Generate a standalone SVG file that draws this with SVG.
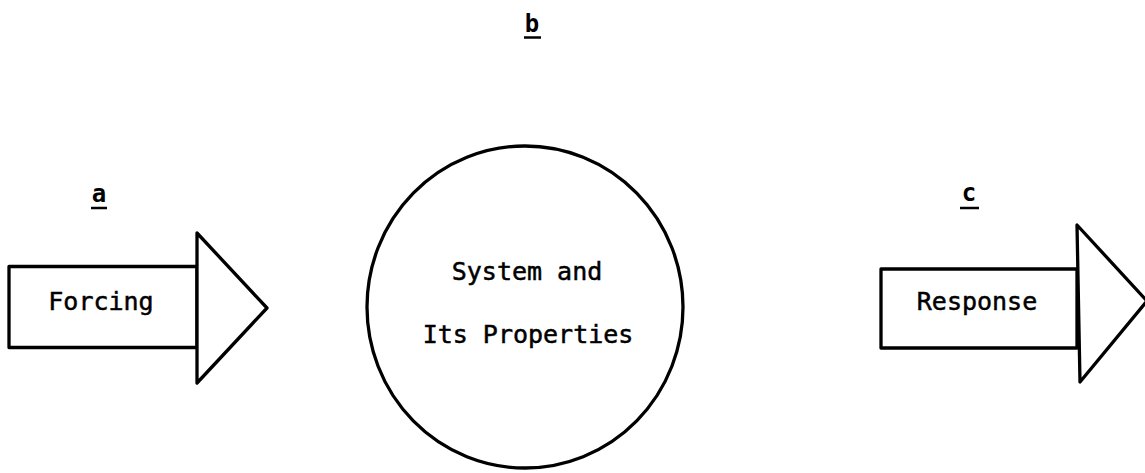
<svg xmlns="http://www.w3.org/2000/svg" width="1145" height="473" viewBox="0 0 1145 473">
  <style>
    .shape { fill: #ffffff; stroke: #000000; stroke-width: 3.3; stroke-linejoin: round; }
    .txt { font-family: "DejaVu Sans Mono", "Liberation Mono", monospace; font-size: 25px; fill: #000000; stroke: #000000; stroke-width: 0.5; text-anchor: middle; }
    .lbl { font-family: "DejaVu Sans Mono", "Liberation Mono", monospace; font-size: 24px; font-weight: bold; fill: #000000; text-anchor: middle; }
    .ul { stroke: #000000; stroke-width: 2.5; }
  </style>
  <rect width="1145" height="473" fill="#ffffff"/>
  <g id="label-b">
    <text class="lbl" x="532" y="32">b</text>
    <line class="ul" x1="524" y1="37.5" x2="541" y2="37.5"/>
  </g>
  <g id="label-a">
    <text class="lbl" x="99" y="202">a</text>
    <line class="ul" x1="91" y1="208" x2="107" y2="208"/>
  </g>
  <g id="label-c">
    <text class="lbl" x="969" y="201">c</text>
    <line class="ul" x1="960" y1="208" x2="979" y2="208"/>
  </g>
  <g id="forcing">
    <rect class="shape" x="9" y="266.5" width="188" height="81"/>
    <polygon class="shape" points="197,233 267,308 197,383"/>
    <text class="txt" x="101" y="310">Forcing</text>
  </g>
  <g id="system">
    <ellipse class="shape" cx="525" cy="307" rx="158" ry="161" stroke-width="3.6"/>
    <text class="txt" x="527" y="280">System and</text>
    <text class="txt" x="528" y="343">Its Properties</text>
  </g>
  <g id="response">
    <rect class="shape" x="881" y="269" width="196" height="79"/>
    <polygon class="shape" points="1077,225 1147,301 1080,382"/>
    <text class="txt" x="977" y="310">Response</text>
  </g>
  <g id="connectors"/>
</svg>
